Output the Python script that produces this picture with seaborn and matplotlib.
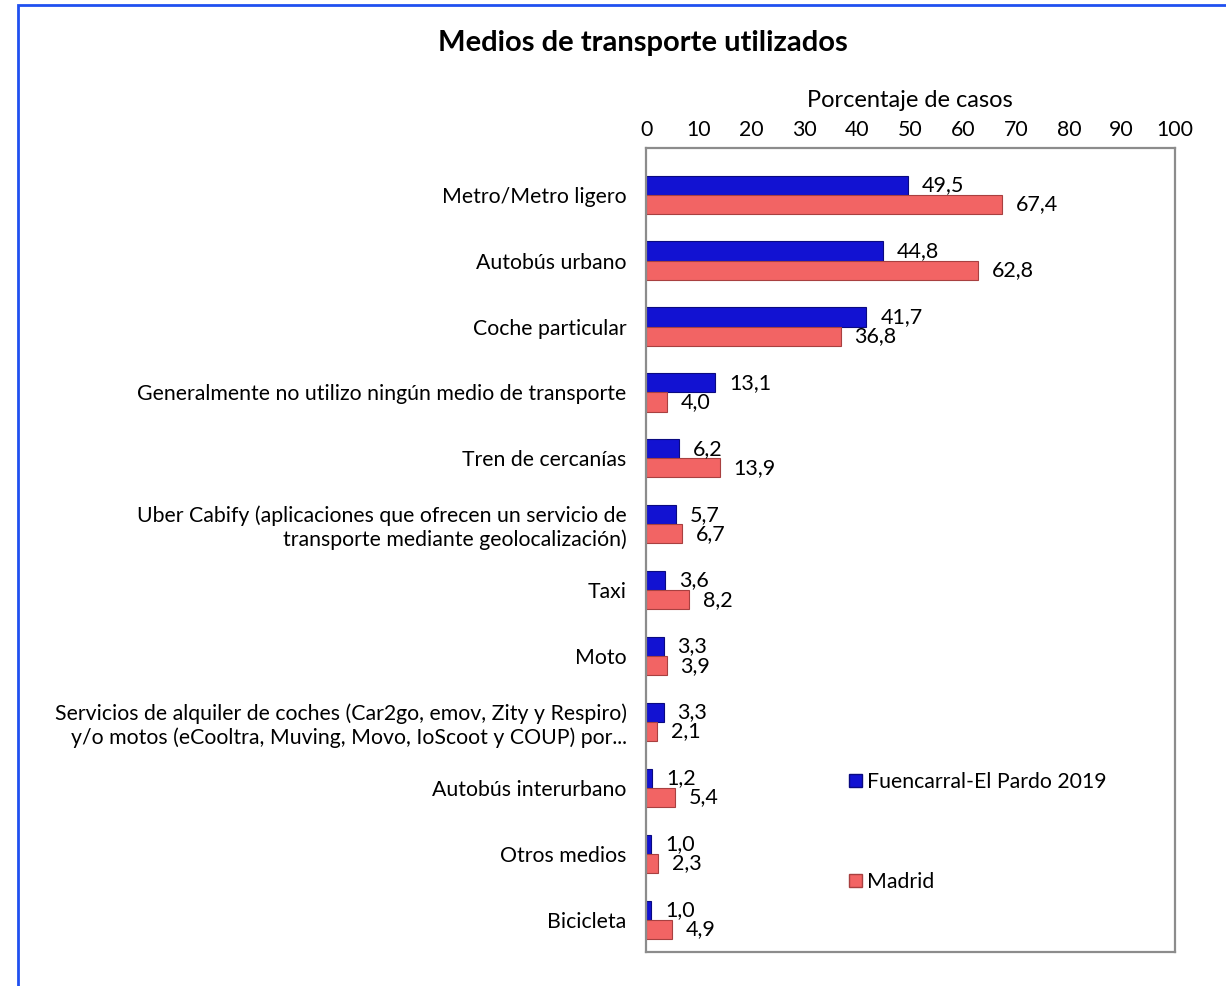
import matplotlib
matplotlib.use("Agg")
import matplotlib.pyplot as plt
import matplotlib.patches as mpatches
import pandas as pd
import seaborn as sns

categories = [
    "Metro/Metro ligero",
    "Autobús urbano",
    "Coche particular",
    "Generalmente no utilizo ningún medio de transporte",
    "Tren de cercanías",
    "Uber Cabify (aplicaciones que ofrecen un servicio de\ntransporte mediante geolocalización)",
    "Taxi",
    "Moto",
    "Servicios de alquiler de coches (Car2go, emov, Zity y Respiro)\ny/o motos (eCooltra, Muving, Movo, IoScoot y COUP) por...",
    "Autobús interurbano",
    "Otros medios",
    "Bicicleta",
]
fuencarral = [49.5, 44.8, 41.7, 13.1, 6.2, 5.7, 3.6, 3.3, 3.3, 1.2, 1.0, 1.0]
madrid = [67.4, 62.8, 36.8, 4.0, 13.9, 6.7, 8.2, 3.9, 2.1, 5.4, 2.3, 4.9]
series = ["Fuencarral-El Pardo 2019", "Madrid"]
colors = ["#1212D2", "#F26464"]
edges = ["#0A0A80", "#A84040"]

df = pd.DataFrame({
    "medio": categories * 2,
    "valor": fuencarral + madrid,
    "serie": [series[0]] * len(categories) + [series[1]] * len(categories),
})

sns.set_style("white")
plt.rcParams["font.family"] = ["Lato", "DejaVu Sans"]
plt.rcParams["text.color"] = "black"
plt.rcParams["axes.labelcolor"] = "black"
plt.rcParams["xtick.color"] = "black"
plt.rcParams["ytick.color"] = "black"

fig = plt.figure(figsize=(12.26, 9.86), dpi=100)
ax = fig.add_axes([0.527, 0.0345, 0.431, 0.8155])

sns.barplot(
    data=df, y="medio", x="valor", hue="serie", order=categories,
    hue_order=series, palette=colors, saturation=1, width=0.58, orient="h",
    ax=ax, legend=False,
)

for container, ec in zip(ax.containers, edges):
    for bar in container:
        bar.set_edgecolor(ec)
        bar.set_linewidth(0.8)
    ax.bar_label(container, labels=[f"{b.get_width():.1f}".replace(".", ",") for b in container],
                 padding=10, fontsize=15.5, color="black")

ax.set_xlim(0, 100)
ax.set_ylim(11.49, -0.71)
ax.set_xticks(range(0, 101, 10))
ax.xaxis.tick_top()
ax.xaxis.set_label_position("top")
ax.set_xlabel("Porcentaje de casos", fontsize=17, labelpad=9)
ax.set_ylabel("")
ax.tick_params(axis="x", length=0, labelsize=15.3, pad=6)
ax.tick_params(axis="y", length=0, labelsize=15.3, pad=14)
for lab in ax.get_yticklabels():
    lab.set_horizontalalignment("right")
for sp in ax.spines.values():
    sp.set_visible(True)
    sp.set_color("#8c8c8c")
    sp.set_linewidth(1.6)

handles = [mpatches.Patch(facecolor=c, edgecolor=e) for c, e in zip(colors, edges)]
ax.legend(handles, series, loc="upper left", bbox_to_anchor=(0.348, 0.2475),
          frameon=False, fontsize=15.3, labelspacing=3.75, handlelength=0.6,
          handleheight=0.6, handletextpad=0.25, borderpad=0.4)

fig.text(0.524, 0.956, "Medios de transporte utilizados", ha="center", va="center",
         fontsize=21, fontweight="bold")

border = mpatches.Rectangle((18 / 1226, -0.05), 1.05, 0.995 + 0.05, transform=fig.transFigure,
                            fill=False, edgecolor="#2050F0", linewidth=2)
fig.patches.append(border)

fig.savefig("out.png", dpi=100)
